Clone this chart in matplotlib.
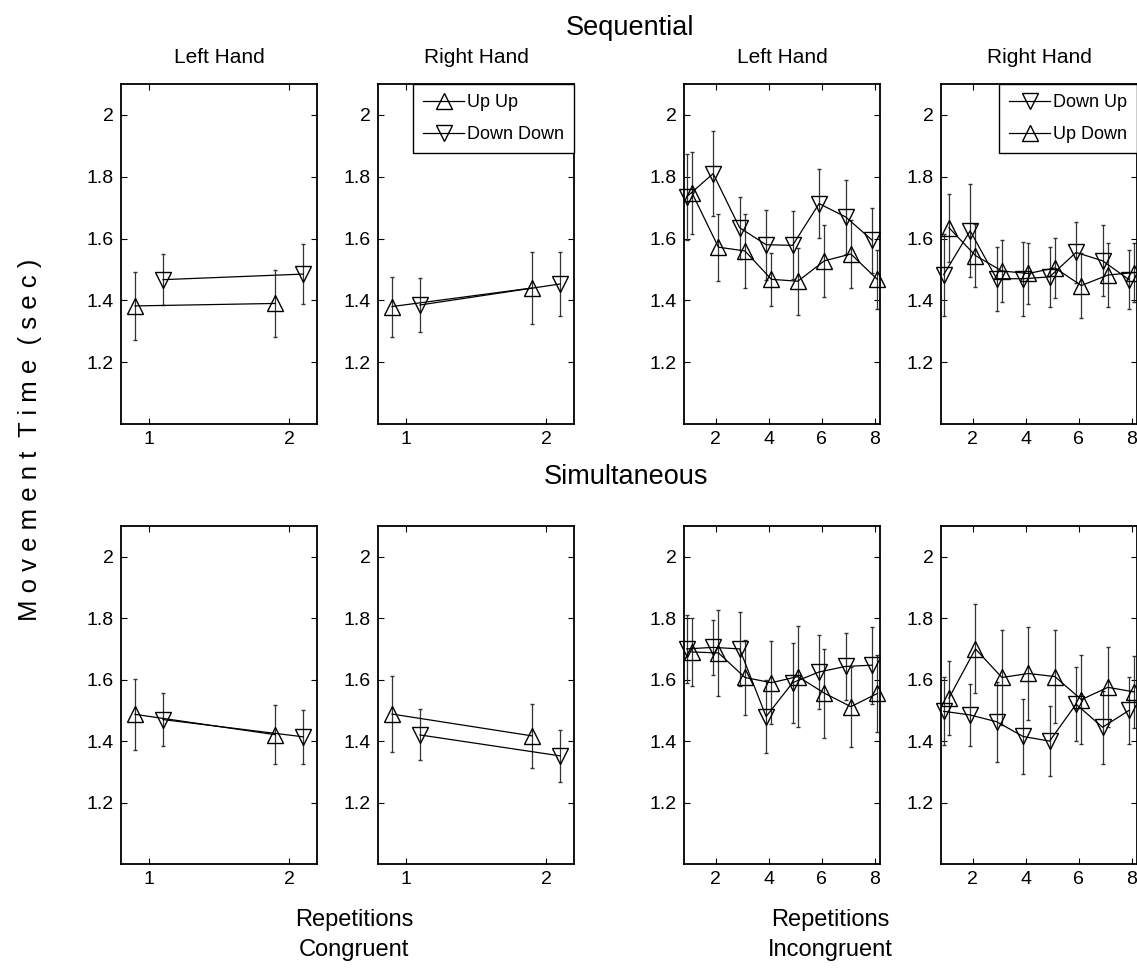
import matplotlib
matplotlib.use('Agg')
import matplotlib.pyplot as plt
import numpy as np

plt.rcParams['font.family'] = ['Liberation Sans', 'DejaVu Sans']

# x values (repetitions)
reps_cong = [1, 2]
reps_incong = [1, 2, 3, 4, 5, 6, 7, 8]

# Sequential, congruent
seq_cong_left_upup = [1.382, 1.390]
seq_cong_left_upup_err = [0.110, 0.107]
seq_cong_left_downdown = [1.467, 1.485]
seq_cong_left_downdown_err = [0.082, 0.097]
seq_cong_right_upup = [1.380, 1.440]
seq_cong_right_upup_err = [0.097, 0.117]
seq_cong_right_downdown = [1.385, 1.453]
seq_cong_right_downdown_err = [0.087, 0.105]

# Simultaneous, congruent
sim_cong_left_upup = [1.487, 1.421]
sim_cong_left_upup_err = [0.115, 0.095]
sim_cong_left_downdown = [1.470, 1.414]
sim_cong_left_downdown_err = [0.085, 0.088]
sim_cong_right_upup = [1.488, 1.417]
sim_cong_right_upup_err = [0.125, 0.105]
sim_cong_right_downdown = [1.420, 1.352]
sim_cong_right_downdown_err = [0.083, 0.084]

# Sequential, incongruent
seq_inc_left_downup = [1.735, 1.810, 1.635, 1.580, 1.578, 1.713, 1.670, 1.595]
seq_inc_left_downup_err = [0.140, 0.138, 0.100, 0.113, 0.110, 0.112, 0.120, 0.105]
seq_inc_left_updown = [1.748, 1.572, 1.560, 1.468, 1.462, 1.528, 1.550, 1.468]
seq_inc_left_updown_err = [0.133, 0.109, 0.119, 0.085, 0.108, 0.117, 0.110, 0.095]
seq_inc_right_downup = [1.483, 1.625, 1.470, 1.470, 1.476, 1.555, 1.528, 1.467]
seq_inc_right_downup_err = [0.133, 0.150, 0.103, 0.120, 0.098, 0.100, 0.115, 0.095]
seq_inc_right_updown = [1.635, 1.545, 1.495, 1.487, 1.505, 1.448, 1.482, 1.490]
seq_inc_right_updown_err = [0.110, 0.103, 0.100, 0.098, 0.098, 0.105, 0.104, 0.094]

# Simultaneous, incongruent
sim_inc_left_downup = [1.700, 1.705, 1.700, 1.480, 1.590, 1.625, 1.643, 1.647]
sim_inc_left_downup_err = [0.110, 0.090, 0.120, 0.120, 0.130, 0.120, 0.110, 0.125]
sim_inc_left_updown = [1.690, 1.687, 1.607, 1.590, 1.610, 1.556, 1.512, 1.555]
sim_inc_left_updown_err = [0.110, 0.140, 0.123, 0.135, 0.165, 0.145, 0.130, 0.125]
sim_inc_right_downup = [1.497, 1.485, 1.463, 1.415, 1.400, 1.520, 1.445, 1.500]
sim_inc_right_downup_err = [0.110, 0.100, 0.130, 0.123, 0.115, 0.120, 0.118, 0.110]
sim_inc_right_updown = [1.540, 1.700, 1.607, 1.620, 1.610, 1.535, 1.575, 1.560]
sim_inc_right_updown_err = [0.120, 0.145, 0.155, 0.150, 0.150, 0.145, 0.130, 0.118]

yticks = [1.2, 1.4, 1.6, 1.8, 2.0]
ytick_labels = ['1.2', '1.4', '1.6', '1.8', '2']

W, H = 1137, 974
fig = plt.figure(figsize=(W / 100, H / 100), dpi=100)

lefts = [121, 378, 684, 941]
pw = 196
rows = [(84, 424), (526, 864)]


def make_ax(col, row):
    top, bot = rows[row]
    ax = fig.add_axes([lefts[col] / W, 1 - bot / H, pw / W, (bot - top) / H])
    ax.set_ylim(1.0, 2.1)
    ax.set_yticks(yticks)
    ax.set_yticklabels(ytick_labels)
    ax.tick_params(direction='in', top=True, right=True, length=4, width=0.8,
                   labelsize=14, pad=5)
    for s in ax.spines.values():
        s.set_linewidth(1.3)
    return ax


def draw(ax, x, a, a_err, b, b_err, ma, mb, off=0.1):
    x = np.array(x, dtype=float)
    la = ax.errorbar(x - off, a, yerr=a_err, fmt='-', marker=ma, color='k',
                     mfc='none', mec='k', ms=11, lw=0.9, elinewidth=0.9,
                     ecolor='0.2', capsize=1.5, clip_on=False)
    lb = ax.errorbar(x + off, b, yerr=b_err, fmt='-', marker=mb, color='k',
                     mfc='none', mec='k', ms=11, lw=0.9, elinewidth=0.9,
                     ecolor='0.2', capsize=1.5, clip_on=False)
    return la, lb


cong = [
    (0, 0, seq_cong_left_upup, seq_cong_left_upup_err, seq_cong_left_downdown, seq_cong_left_downdown_err),
    (1, 0, seq_cong_right_upup, seq_cong_right_upup_err, seq_cong_right_downdown, seq_cong_right_downdown_err),
    (0, 1, sim_cong_left_upup, sim_cong_left_upup_err, sim_cong_left_downdown, sim_cong_left_downdown_err),
    (1, 1, sim_cong_right_upup, sim_cong_right_upup_err, sim_cong_right_downdown, sim_cong_right_downdown_err),
]
inc = [
    (2, 0, seq_inc_left_downup, seq_inc_left_downup_err, seq_inc_left_updown, seq_inc_left_updown_err),
    (3, 0, seq_inc_right_downup, seq_inc_right_downup_err, seq_inc_right_updown, seq_inc_right_updown_err),
    (2, 1, sim_inc_left_downup, sim_inc_left_downup_err, sim_inc_left_updown, sim_inc_left_updown_err),
    (3, 1, sim_inc_right_downup, sim_inc_right_downup_err, sim_inc_right_updown, sim_inc_right_updown_err),
]

leg_kw = dict(loc='upper right', borderaxespad=0, fancybox=False, fontsize=13,
              handlelength=2.3, handletextpad=0.15, labelspacing=0.85,
              borderpad=0.55, framealpha=1, edgecolor='k')

for col, row, a, ae, b, be in cong:
    ax = make_ax(col, row)
    la, lb = draw(ax, reps_cong, a, ae, b, be, '^', 'v')
    ax.set_xlim(0.8, 2.2)
    ax.set_xticks([1, 2])
    if row == 0:
        ax.set_title(['Left Hand', 'Right Hand'][col], fontsize=15, pad=15)
    if col == 1 and row == 0:
        lg = ax.legend([la[0], lb[0]], ['Up Up', 'Down Down'], **leg_kw)
        lg.get_frame().set_linewidth(1.0)

for col, row, a, ae, b, be in inc:
    ax = make_ax(col, row)
    la, lb = draw(ax, reps_incong, a, ae, b, be, 'v', '^')
    ax.set_xlim(0.8, 8.2)
    ax.set_xticks([2, 4, 6, 8])
    if row == 0:
        ax.set_title(['Left Hand', 'Right Hand'][col - 2], fontsize=15, pad=15)
    if col == 3 and row == 0:
        lg = ax.legend([la[0], lb[0]], ['Down Up', 'Up Down'], **leg_kw)
        lg.get_frame().set_linewidth(1.0)

fig.text(630 / W, 1 - 28 / H, 'Sequential', ha='center', va='center', fontsize=19.5)
fig.text(626 / W, 1 - 477 / H, 'Simultaneous', ha='center', va='center', fontsize=19.5)
fig.text(354 / W, 1 - 920 / H, 'Repetitions', ha='center', va='center', fontsize=17)
fig.text(354 / W, 1 - 950 / H, 'Congruent', ha='center', va='center', fontsize=17)
fig.text(830 / W, 1 - 920 / H, 'Repetitions', ha='center', va='center', fontsize=17)
fig.text(830 / W, 1 - 950 / H, 'Incongruent', ha='center', va='center', fontsize=17)
fig.text(30 / W, 1 - 440 / H, 'M o v e m e n t  T i m e  ( s e c )', rotation=90,
         ha='center', va='center', fontsize=18.5)

plt.savefig('out.png', dpi=100)
